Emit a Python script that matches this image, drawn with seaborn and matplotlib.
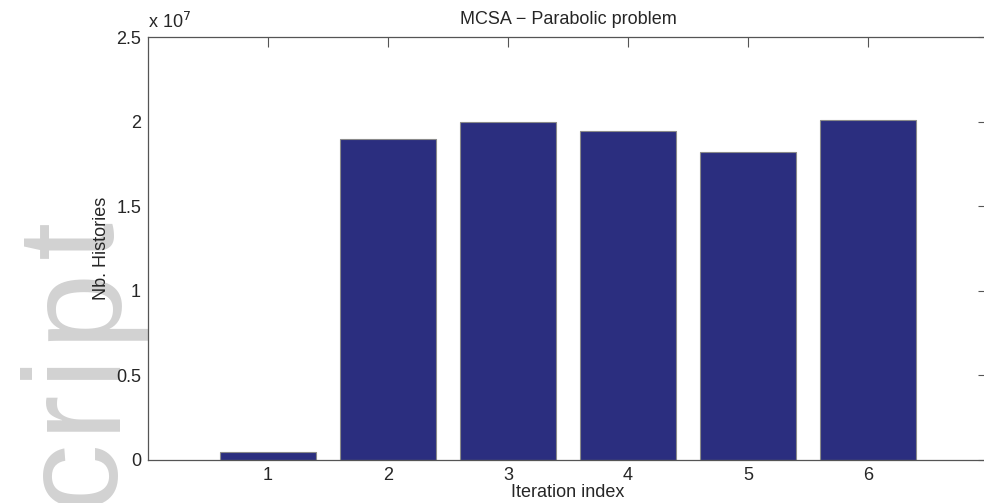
import numpy as np
import pandas as pd
import seaborn as sns
import matplotlib.pyplot as plt
from matplotlib.ticker import FuncFormatter
from matplotlib.font_manager import FontProperties
from matplotlib.textpath import text_to_path

# values
iterations = [1, 2, 3, 4, 5, 6]
histories = [0.05e7, 1.90e7, 2.00e7, 1.945e7, 1.82e7, 2.01e7]
y_ticks = [0, 0.5e7, 1.0e7, 1.5e7, 2.0e7, 2.5e7]

df = pd.DataFrame({'Iteration': iterations, 'Histories': histories})

sns.set_style('white')
plt.rcParams['font.family'] = ['Liberation Sans', 'DejaVu Sans']
plt.rcParams['font.size'] = 13

fig = plt.figure(figsize=(9.84, 5.03), dpi=100)

# watermark from the paper page, drawn behind everything (pixel coords)
bg = fig.add_axes([0, 0, 1, 1], zorder=-1)
bg.set_xlim(0, 984)
bg.set_ylim(503, 0)
bg.axis('off')
mark = 'Accepted Manuscript'
em = 137.0          # px
track = 7.0         # extra letter spacing, px
fp = FontProperties(family='Liberation Sans', size=em)
ypos = 258.0        # start of the last letter
for i, ch in enumerate(reversed(mark)):
    if i > 0:
        w = text_to_path.get_text_width_height_descent(ch, fp, ismath=False)[0]
        ypos += w + track
    bg.text(112, ypos, ch, rotation=90, rotation_mode='anchor',
            ha='left', va='baseline', fontsize=em * 72 / 100,
            color='#d2d2d2')

ax = fig.add_axes([148 / 984, 43 / 503, 840 / 984, 423 / 503])
ax.patch.set_alpha(0)

sns.barplot(data=df, x='Iteration', y='Histories', native_scale=True,
            width=0.8, color='#2b2e7f', saturation=1,
            edgecolor='#8a8a8a', linewidth=0.8, ax=ax)

ax.set_xlim(0, 7)
ax.set_ylim(0, 2.5e7)
ax.set_xticks(iterations)
ax.set_yticks(y_ticks)
ax.yaxis.set_major_formatter(FuncFormatter(lambda v, p: '%g' % (v / 1e7)))
ax.tick_params(direction='in', length=7, width=0.8, color='#555555',
               top=True, right=True, labelsize=13, pad=5)
for s in ax.spines.values():
    s.set_color('#555555')
    s.set_linewidth(0.9)

ax.text(0.0, 1.012, r'x 10$^{7}$', transform=ax.transAxes,
        fontsize=13, ha='left', va='bottom')
ax.set_title('MCSA \u2212 Parabolic problem', fontsize=13, pad=9)
ax.set_xlabel('Iteration index', fontsize=13, labelpad=0)
ax.set_ylabel('Nb. Histories', fontsize=13, labelpad=4)

fig.savefig('out.png', dpi=100)
